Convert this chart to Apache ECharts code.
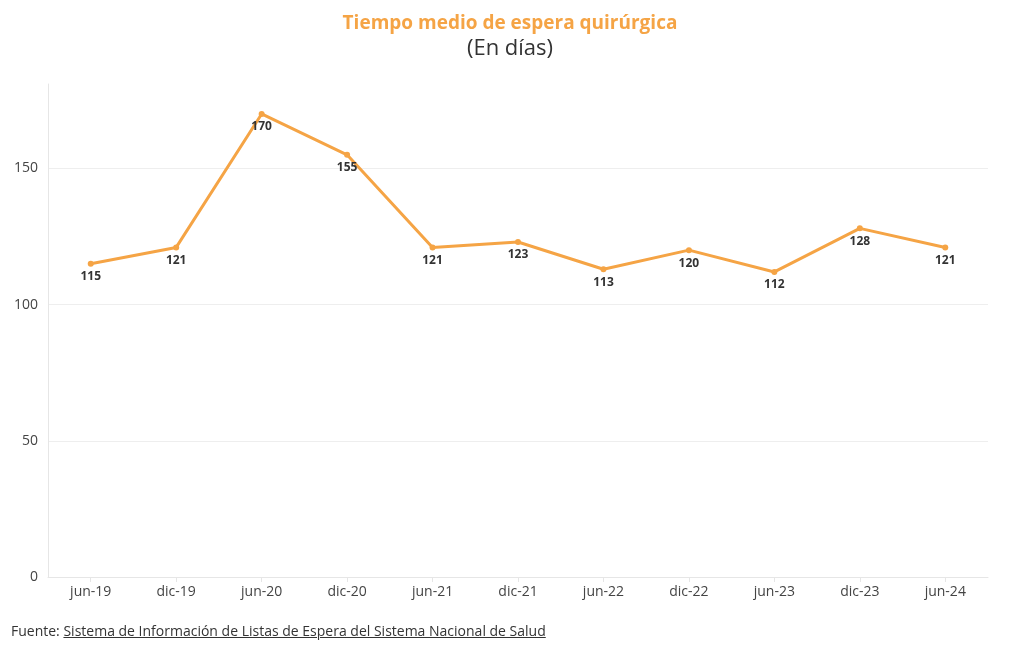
<!DOCTYPE html>
<html><head><meta charset="utf-8">
<script src="https://cdn.jsdelivr.net/npm/echarts@6/dist/echarts.min.js"></script>
<style>
html,body{margin:0;padding:0;background:#fff;}
#c{width:1020px;height:650px;position:absolute;left:0;top:0;}
#f{position:absolute;left:11px;top:621px;font-family:"Open Sans",sans-serif;font-size:14px;color:#333;}
#f span{text-decoration:underline;}
</style></head>
<body>
<div id="c"></div>
<div id="f">Fuente: <span>Sistema de Información de Listas de Espera del Sistema Nacional de Salud</span></div>
<script>
const categories = ["jun-19","dic-19","jun-20","dic-20","jun-21","dic-21","jun-22","dic-22","jun-23","dic-23","jun-24"];
const values = [115,121,170,155,121,123,113,120,112,128,121];
const yTicks = [0,50,100,150];

const chart = echarts.init(document.getElementById('c'));
chart.setOption({
  animation:false,
  title:{
    text:'Tiempo medio de espera quirúrgica',
    subtext:'(En días)',
    left:'center', top:9, itemGap:5,
    textStyle:{color:'#F5A445',fontSize:19,fontWeight:'bold',fontFamily:'Open Sans'},
    subtextStyle:{color:'#333',fontSize:22,fontFamily:'Open Sans'}
  },
  grid:{left:48,right:32,top:84,bottom:73},
  xAxis:{
    type:'category', data:categories, boundaryGap:true,
    axisLine:{show:true,lineStyle:{color:'#e6e6e6'}},
    axisTick:{show:true,alignWithLabel:true,length:5,lineStyle:{color:'#e6e6e6'}},
    axisLabel:{color:'#444',fontSize:14,fontFamily:'Open Sans',margin:8}
  },
  yAxis:{
    type:'value', min:0, max:181, interval:50,
    axisLine:{show:true,lineStyle:{color:'#e6e6e6'}},
    axisTick:{show:false},
    splitLine:{lineStyle:{color:['#eeeeee','#eeeeee','#eeeeee','#eeeeee','rgba(0,0,0,0)']}},
    axisLabel:{color:'#444',fontSize:14,fontFamily:'Open Sans',margin:10,
      formatter:v=>yTicks.includes(v)?String(v):''}
  },
  series:[{
    type:'line', data:values,
    symbol:'circle', symbolSize:6,
    lineStyle:{color:'#F5A445',width:3},
    itemStyle:{color:'#F5A445'},
    label:{show:true,position:'bottom',distance:4,color:'#333',fontWeight:'bold',fontSize:12,fontFamily:'Open Sans'}
  }]
});
</script>
</body></html>
